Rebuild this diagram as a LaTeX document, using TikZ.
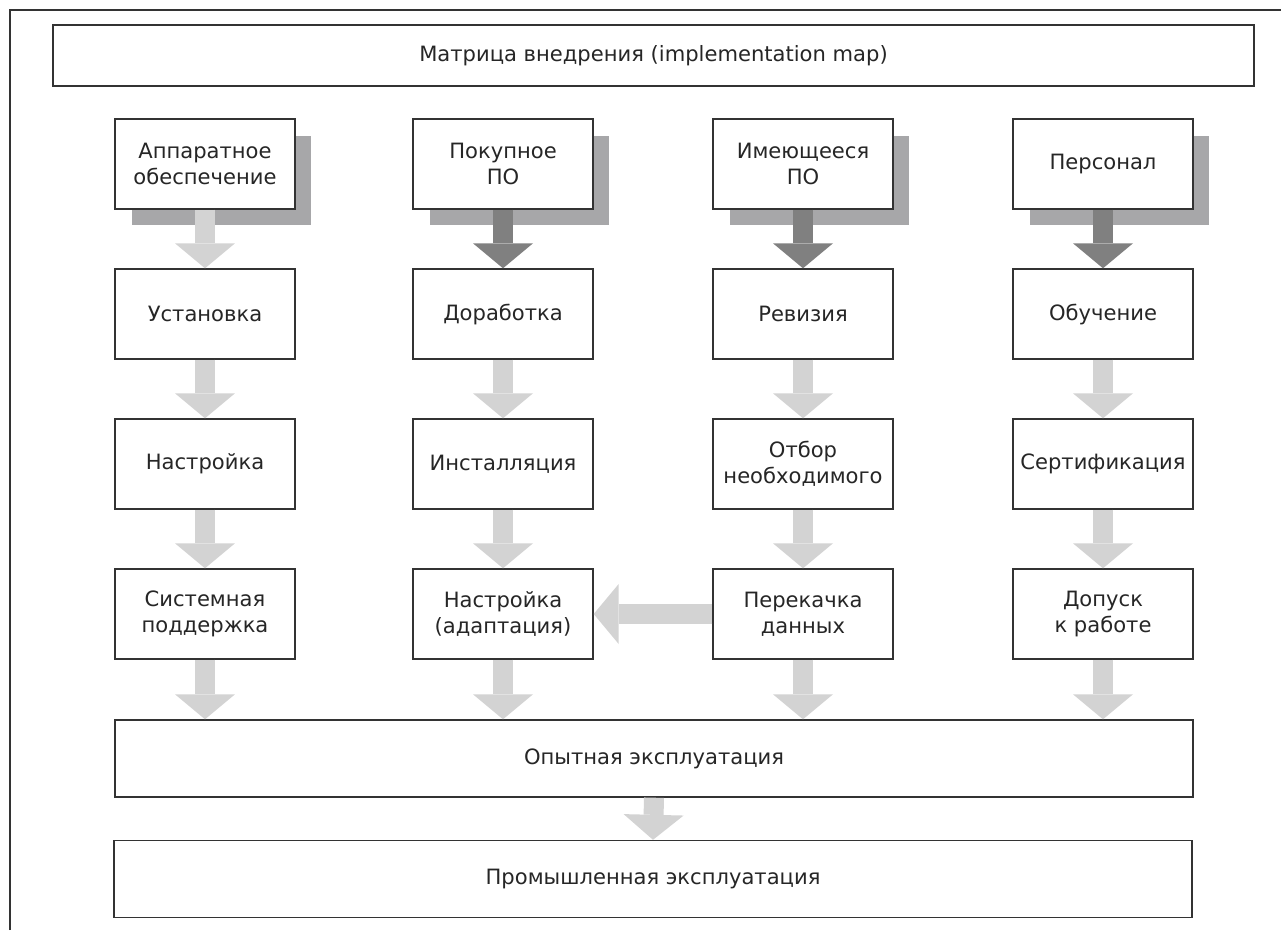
\documentclass[tikz,border=0pt]{standalone}
\usepackage{fontspec}
\setmainfont{DejaVu Sans}
\usetikzlibrary{arrows.meta,shadows}
\definecolor{framegray}{HTML}{333333}
\definecolor{shadowgray}{HTML}{A7A7A9}
\definecolor{arrowlight}{HTML}{D3D3D3}
\definecolor{arrowdark}{HTML}{808080}
\begin{document}
\begin{tikzpicture}[
    x=0.02cm,y=-0.02cm,
    box/.style={
        draw=framegray,
        line width=0.8pt,
        fill=white,
        minimum width=3.6cm,
        minimum height=1.8cm,
        align=center,
        text=black!85,
        font=\fontsize{12}{14.7}\selectfont
    },
    shadowbox/.style={
        box,
        drop shadow={shadow xshift=0.33cm, shadow yshift=-0.33cm,
            fill=shadowgray, opacity=1}
    },
    wide/.style={
        box,
        minimum width=21.56cm,
        minimum height=1.54cm
    },
    lightarrow/.style={
        draw=arrowlight, line width=0.4cm,
        -{Triangle[width=1.2cm, length=0.5cm, line width=0pt]}
    },
    darkarrow/.style={lightarrow, draw=arrowdark}
]
    \useasboundingbox (0,0) rectangle (1281,930);
    \draw[framegray, line width=1.1pt] (10,930) -- (10,10) -- (1281,10);

    \node[box, minimum width=24.02cm, minimum height=1.22cm] (title) at (653.5,55.5)
        {Матрица внедрения (implementation map)};

    % ресурсы
    \node[shadowbox] (hw)    at (205,164)  {Аппаратное\\обеспечение};
    \node[shadowbox] (buysw) at (503,164)  {Покупное\\ПО};
    \node[shadowbox] (ownsw) at (803,164)  {Имеющееся\\ПО};
    \node[shadowbox] (staff) at (1103,164) {Персонал};

    \node[box] (setup)  at (205,314)  {Установка};
    \node[box] (modify) at (503,314)  {Доработка};
    \node[box] (review) at (803,314)  {Ревизия};
    \node[box] (train)  at (1103,314) {Обучение};

    \node[box] (tune)    at (205,464)  {Настройка};
    \node[box] (install) at (503,464)  {Инсталляция};
    \node[box] (select)  at (803,464)  {Отбор\\необходимого};
    \node[box] (certify) at (1103,464) {Сертификация};

    \node[box] (support)  at (205,614)  {Системная\\поддержка};
    \node[box] (adapt)    at (503,614)  {Настройка\\(адаптация)};
    \node[box] (transfer) at (803,614)  {Перекачка\\данных};
    \node[box] (admit)    at (1103,614) {Допуск\\к работе};

    \node[wide] (trial) at (654,758.5) {Опытная эксплуатация};
    \node[wide] (prod)  at (653,879)   {Промышленная эксплуатация};

    \draw[lightarrow] (hw.south) -- (setup.north);
    \draw[darkarrow]  (buysw.south) -- (modify.north);
    \draw[darkarrow]  (ownsw.south) -- (review.north);
    \draw[darkarrow]  (staff.south) -- (train.north);

    \draw[lightarrow] (setup.south) -- (tune.north);
    \draw[lightarrow] (modify.south) -- (install.north);
    \draw[lightarrow] (review.south) -- (select.north);
    \draw[lightarrow] (train.south) -- (certify.north);

    \draw[lightarrow] (tune.south) -- (support.north);
    \draw[lightarrow] (install.south) -- (adapt.north);
    \draw[lightarrow] (select.south) -- (transfer.north);
    \draw[lightarrow] (certify.south) -- (admit.north);

    \draw[lightarrow] (transfer.west) -- (adapt.east);

    \draw[lightarrow] (support.south) -- (support.south |- trial.north);
    \draw[lightarrow] (adapt.south) -- (adapt.south |- trial.north);
    \draw[lightarrow] (transfer.south) -- (transfer.south |- trial.north);
    \draw[lightarrow] (admit.south) -- (admit.south |- trial.north);

    \draw[lightarrow] (trial.south) -- (prod.north);
\end{tikzpicture}
\end{document}
